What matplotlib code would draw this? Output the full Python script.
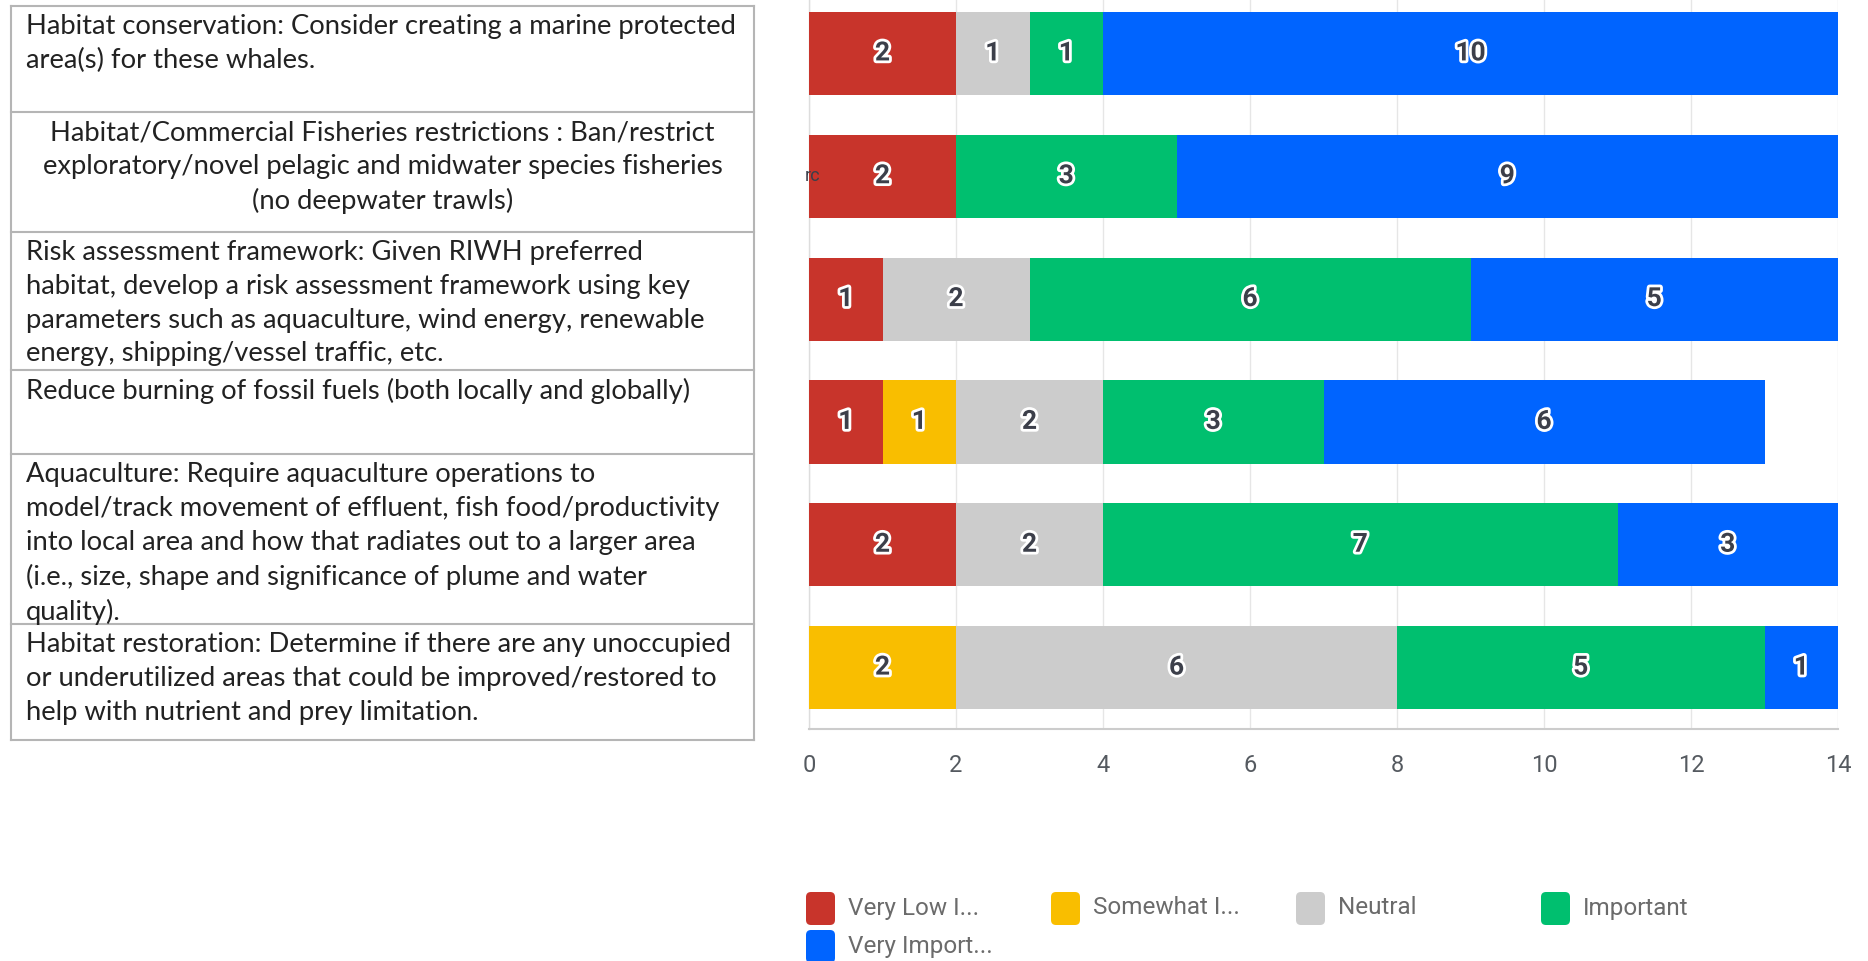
# IMPORTS Y CONFIGURACION BASE
import matplotlib
matplotlib.use("Agg")
import matplotlib.pyplot as plt
import matplotlib.patheffects as pe
from matplotlib.patches import FancyBboxPatch
import numpy as np

# DATOS
acciones = [
    "Habitat conservation: Consider creating a marine protected\narea(s) for these whales.",
    "Habitat/Commercial Fisheries restrictions : Ban/restrict\nexploratory/novel pelagic and midwater species fisheries\n(no deepwater trawls)",
    "Risk assessment framework: Given RIWH preferred\nhabitat, develop a risk assessment framework using key\nparameters such as aquaculture, wind energy, renewable\nenergy, shipping/vessel traffic, etc.",
    "Reduce burning of fossil fuels (both locally and globally)",
    "Aquaculture: Require aquaculture operations to\nmodel/track movement of effluent, fish food/productivity\ninto local area and how that radiates out to a larger area\n(i.e., size, shape and significance of plume and water\nquality).",
    "Habitat restoration: Determine if there are any unoccupied\nor underutilized areas that could be improved/restored to\nhelp with nutrient and prey limitation.",
]
alineacion = ["left", "center", "left", "left", "left", "left"]

niveles = ["Very Low I...", "Somewhat I...", "Neutral", "Important", "Very Import..."]
colores = ["#C8342B", "#F9BE00", "#CCCCCC", "#00BF6F", "#0064FF"]

muy_bajo = [2, 2, 1, 1, 2, 0]
algo = [0, 0, 0, 1, 0, 2]
neutral = [1, 0, 2, 2, 2, 6]
importante = [1, 3, 6, 3, 7, 5]
muy_importante = [10, 9, 5, 6, 3, 1]
series = [muy_bajo, algo, neutral, importante, muy_importante]

xticks = [0, 2, 4, 6, 8, 10, 12, 14]

# FIGURA
W, H = 1868, 961
fig = plt.figure(figsize=(W / 100, H / 100), dpi=100)

# GRAFICO DE BARRAS
ax = fig.add_axes([809 / W, 1 - 729 / H, (1838 - 809) / W, 729 / H])
y = np.arange(len(acciones))
izquierda = np.zeros(len(acciones))
for vals, col in zip(series, colores):
    vals = np.array(vals)
    ax.barh(y, vals, left=izquierda, height=0.677, color=col, zorder=3)
    for i, v in enumerate(vals):
        if v > 0:
            ax.text(izquierda[i] + v / 2, y[i], str(v), ha="center", va="center",
                    fontsize=19, fontweight="bold", color="#3c3f4a", family="Roboto",
                    zorder=5,
                    path_effects=[pe.withStroke(linewidth=4, foreground="white")])
    izquierda += vals

# etiqueta cortada que asoma sobre la barra
ax.text(0.15, 1, "rc", ha="right", va="center", fontsize=13, color="#3c3f4a",
        family="Roboto", clip_on=False, zorder=4)

ax.set_xlim(0, 14)
ax.set_ylim(5.5, -0.435)
ax.set_xticks(xticks)
ax.set_yticks([])
ax.tick_params(axis="x", length=0, pad=18, labelsize=17, labelcolor="#555a60")
for lab in ax.get_xticklabels():
    lab.set_family("Roboto")
ax.grid(axis="x", color="#e6e6e6", linewidth=1, zorder=0)
for s in ["top", "right"]:
    ax.spines[s].set_visible(False)
ax.spines["bottom"].set_color("#cccccc")
ax.spines["bottom"].set_linewidth(1.5)
ax.spines["left"].set_color("#dddddd")
ax.spines["left"].set_linewidth(1)

# CAPA SUPERIOR (tabla y leyenda en pixeles)
ov = fig.add_axes([0, 0, 1, 1])
ov.set_xlim(0, W)
ov.set_ylim(H, 0)
ov.axis("off")
ov.patch.set_visible(False)

# TABLA
bordes = [6, 112, 232, 370, 454, 624, 740]
x0, x1 = 11, 754
ov.plot([x0, x0], [bordes[0], bordes[-1]], color="#b5b5b5", lw=1.5)
ov.plot([x1, x1], [bordes[0], bordes[-1]], color="#b5b5b5", lw=1.5)
for b in bordes:
    ov.plot([x0, x1], [b, b], color="#b5b5b5", lw=1.5)
for i, txt in enumerate(acciones):
    al = alineacion[i]
    tx = 26 if al == "left" else (x0 + x1) / 2
    ov.text(tx, bordes[i] + 8, txt, ha=al, va="top", multialignment=al,
            fontsize=19.7, family="Lato", color="#222222", linespacing=1.44)

# LEYENDA
for k, (nom, col) in enumerate(zip(niveles, colores)):
    c, r = k % 4, k // 4
    lx = 806 + c * 245
    cy = 908 + r * 38
    ov.add_patch(FancyBboxPatch((lx, cy - 16), 29, 33,
                                boxstyle="round,pad=0,rounding_size=5",
                                facecolor=col, edgecolor="none"))
    ov.text(lx + 42, cy, nom, ha="left", va="center", fontsize=17.5,
            family="Roboto", color="#6b6b6b")

fig.savefig("out.png", dpi=100)
